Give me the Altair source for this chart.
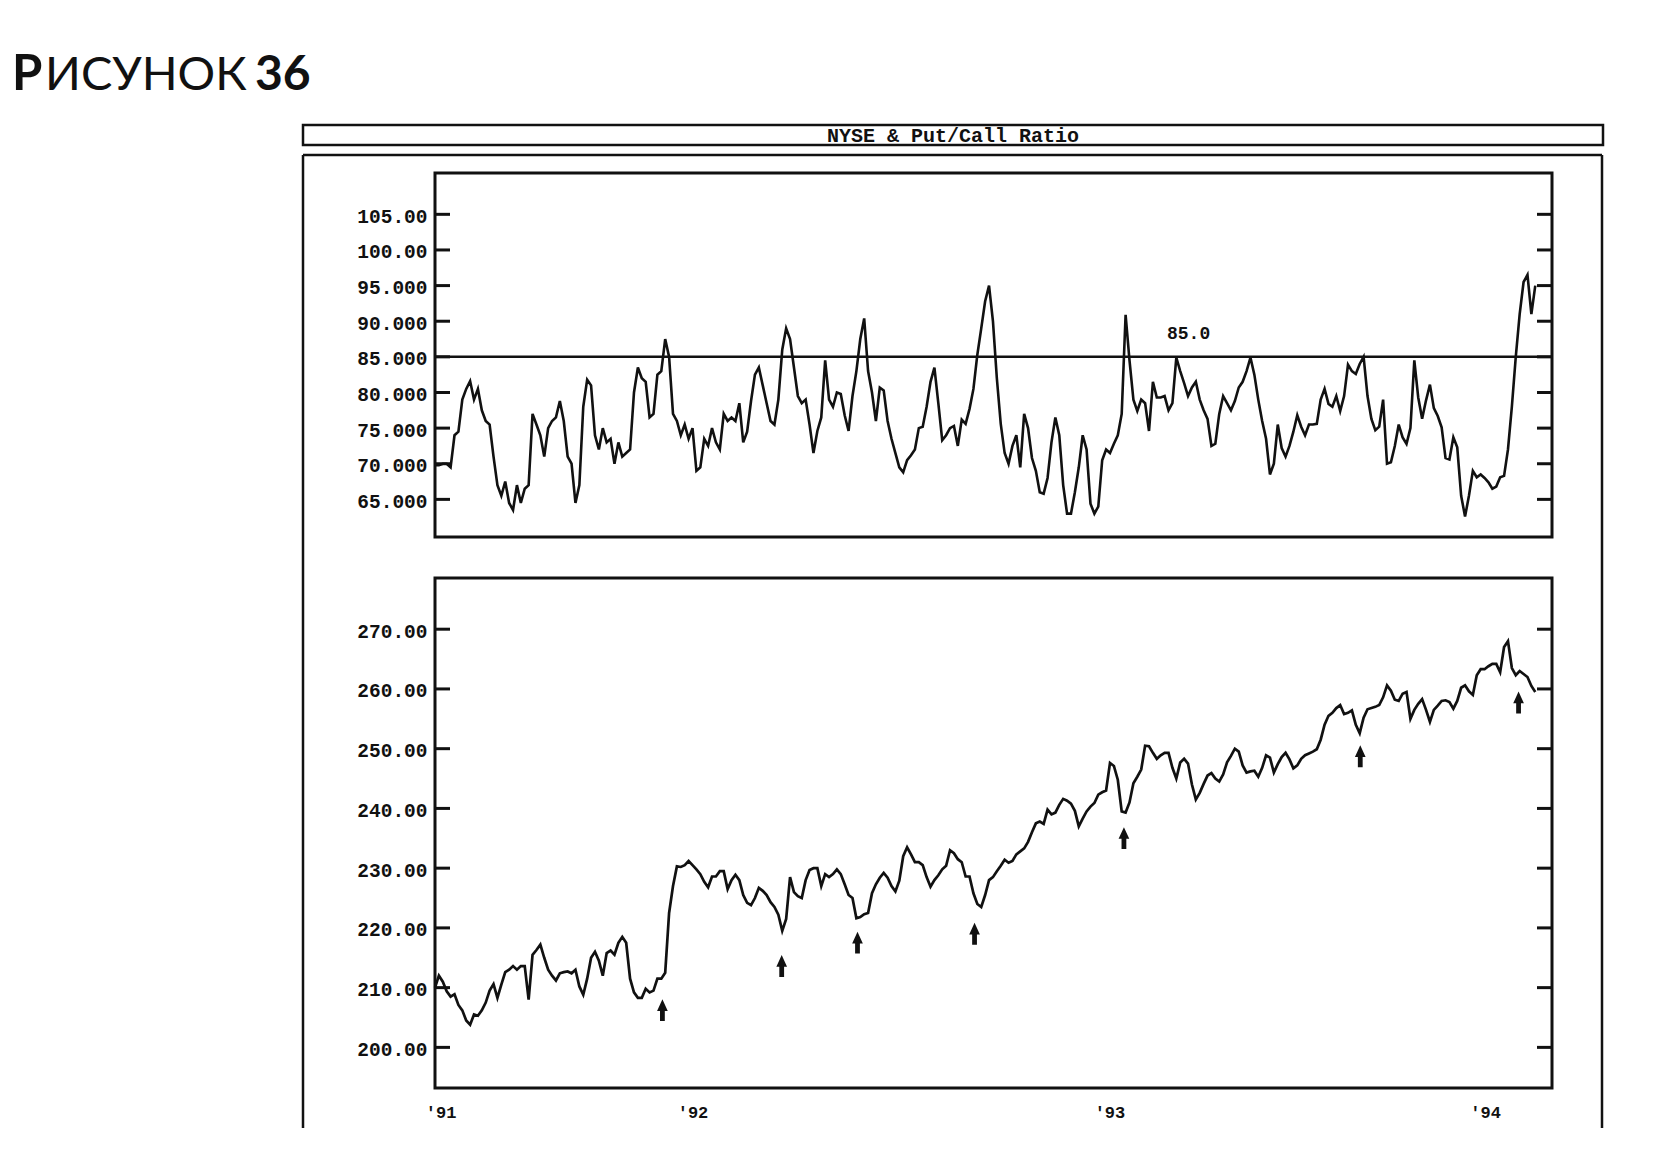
import altair as alt
import pandas as pd

# ---------------- data (half-week steps) ----------------
START = "1991-05-15"
STEP = "84h"

pcr_values = [
    69.8, 69.8, 70, 70, 69.5, 74, 74.5, 79, 80.5, 81.6,
    79, 80.5, 77.5, 76, 75.5, 71, 67, 65.5, 67.5, 64.5,
    63.5, 67, 64.5, 66.5, 67, 77, 75.5, 74, 71, 75,
    76, 76.5, 78.8, 76, 71, 70, 64.5, 67, 78, 81.8,
    81, 74, 72, 75, 73, 73.5, 70, 73, 71, 71.5,
    72, 80, 83.5, 82, 81.5, 76.5, 77, 82.5, 83, 87.5,
    85, 77, 76, 74, 75.5, 73.5, 75, 69, 69.5, 73.5,
    72.5, 75, 73, 72, 77, 76, 76.5, 76, 78.5, 73,
    74.5, 78.8, 82.5, 83.5, 81, 78.5, 76, 75.5, 79,
    86, 89, 87.5, 83.5, 79.5, 78.5, 79, 75.5, 71.5, 74.6, 76.5,
    84.5, 79, 78, 80, 79.8, 76.8, 74.6, 79.5, 83, 87.5,
    90.4, 83, 80, 76, 80.7, 80.3, 76, 73.5, 71.5, 69.5,
    68.8, 70.5, 71.2, 72, 75, 75.2, 78, 81.5, 83.5, 78.5,
    73.3, 74, 75, 75.3, 72.5, 76.2, 75.6, 77.7, 80.5, 85.3,
    89, 92.8, 95, 90, 82, 75.6, 71.5, 70, 72.5, 74,
    69.5, 77, 75, 70.8, 69, 66, 65.8, 68, 73, 76.5,
    74, 67, 63, 63, 66, 69.5, 74, 72, 64.4, 63,
    64, 70.5, 72, 71.5, 72.8, 74, 77, 90.9, 84.5, 79,
    77.4, 79, 78.5, 74.6, 81.5, 79.3, 79.3, 79.5, 77.5, 78.5,
    84.9, 83, 81.3, 79.5, 80.7, 81.5, 79, 77.5, 76.3, 72.5,
    72.8, 77, 79.5, 78.5, 77.5, 78.8, 80.7, 81.5, 83, 84.9,
    82.5, 79, 76, 73.5, 68.5, 70, 75.5, 72.2, 71, 72.5,
    74.5, 76.8, 75.2, 74, 75.5, 75.5, 75.6, 79, 80.5, 78.4,
    78, 79.5, 77.4, 79.5, 83.9, 83, 82.6, 84, 85, 79.5,
    76.3, 74.7, 75.2, 79, 70, 70.2, 72.5, 75.5, 73.7, 72.8,
    75, 84.5, 79.3, 76.3, 78.9, 81.1, 77.8, 76.7, 75.1, 70.8,
    70.6, 73.7, 72.3, 65.5, 62.6, 65.5, 69, 68.1, 68.5, 68,
    67.4, 66.5, 66.8, 68.1, 68.3, 72, 78, 85, 91, 95.5,
    96.5, 91, 95,
]

nyse_values = [
    210, 212, 211, 209.4, 208.5, 208.9, 207.1, 206.2, 204.5, 203.8,
    205.5, 205.3, 206.2, 207.5, 209.5, 210.6, 208.3, 210.5, 212.6, 213,
    213.6, 213, 213.6, 213.6, 208, 215.5, 216.3, 217.2, 215, 213,
    212, 211.2, 212.4, 212.6, 212.7, 212.4, 213, 210.2, 208.8, 211.5,
    215, 216, 214.5, 212, 215.8, 216.2, 215.5, 217.5, 218.5, 217.5,
    211.5, 209.2, 208.3, 208.3, 209.8, 209.2, 209.5, 211.5, 211.5, 212.5,
    222.5, 227, 230.3, 230.2, 230.5, 231.2, 230.5, 229.8, 229, 227.7,
    226.8, 228.6, 228.6, 229.5, 229.5, 226.5, 228, 228.9, 228, 225.5,
    224.2, 223.8, 225, 226.7, 226.2, 225.5, 224.3, 223.5, 222.2,
    219.5, 221.5, 228.5, 226, 225.3, 225, 228, 229.7, 230, 230, 227,
    229, 228.5, 229, 229.8, 229, 227.3, 225.5, 225, 221.6, 221.8,
    222.3, 222.5, 225.8, 227.3, 228.4, 229.2, 228.4, 227, 226.1, 227.9,
    232, 233.5, 232.3, 231, 231, 230.5, 228.5, 226.9, 228, 228.8,
    229.8, 230.4, 233, 232.5, 231.5, 231, 228.6, 228.6, 225.8, 224,
    223.5, 225.5, 228, 228.5, 229.5, 230.4, 231.4, 230.9, 231.2, 232.3,
    232.8, 233.3, 234.4, 236, 237.5, 237.8, 237.4, 239.8, 239, 239.3,
    240.6, 241.6, 241.3, 240.8, 239.6, 237, 238.3, 239.5, 240.3, 240.9,
    242.3, 242.7, 243, 247.6, 247.1, 244.8, 239.5, 239.3, 241, 244.2,
    245.3, 246.5, 250.5, 250.4, 249.3, 248.3, 248.9, 249.3, 249.3, 246.8,
    245, 247.7, 248.3, 247.5, 244, 241.5, 242.6, 244.1, 245.5, 245.9,
    245, 244.5, 245.7, 247.7, 248.8, 250, 249.5, 247.2, 246, 246.2,
    246.3, 245.3, 246.8, 248.9, 248.5, 246, 247.4, 248.6, 249.3, 248.2,
    246.7, 247.2, 248.3, 248.9, 249.2, 249.5, 249.9, 251.5, 254, 255.5,
    256, 256.8, 257.3, 255.8, 256, 256.4, 254, 252.6, 255.2, 256.6,
    256.8, 257, 257.3, 258.6, 260.6, 259.7, 258.2, 258, 259.2, 259.5,
    255, 256.5, 257.5, 258.3, 256.5, 254.5, 256.5, 257.2, 258, 258.1,
    257.8, 256.7, 258, 260.2, 260.6, 259.6, 259, 262.3, 263.3, 263.3,
    263.8, 264.2, 264.2, 262.8, 267, 268, 263.5, 262.3, 263, 262.5,
    262, 260.5, 259.5,
]

arrow_dates = ["1991-12-05", "1992-03-21", "1992-05-28", "1992-09-10",
               "1993-01-22", "1993-08-22", "1994-01-11"]
arrow_values = [206.1, 213.5, 217.4, 218.9, 234.9, 248.6, 257.6]

pcr_ticks = [65, 70, 75, 80, 85, 90, 95, 100, 105]
nyse_ticks = [200, 210, 220, 230, 240, 250, 260, 270]
year_tick_dates = [(1991, 5, 20), (1992, 1, 1), (1993, 1, 9), (1993, 12, 12)]
year_tick_labels = ["'91", "'92", "'93", "'94"]
level_value = 85.0
level_label = "85.0"
level_label_date = "1993-03-21"
level_label_value = 88.2

chart_title = ["Р", "ИСУНОК", "36"]
panel_title = "NYSE & Put/Call Ratio"

# ---------------- tables ----------------
dates = pd.date_range(START, periods=len(pcr_values), freq=STEP)
pcr_df = pd.DataFrame({"date": dates, "pcr": pcr_values})
nyse_df = pd.DataFrame({"date": dates[:len(nyse_values)], "nyse": nyse_values})
arrow_df = pd.DataFrame({"date": pd.to_datetime(arrow_dates), "nyse": arrow_values})
pcr_tick_df = pd.DataFrame({"pcr": pcr_ticks})
nyse_tick_df = pd.DataFrame({"nyse": nyse_ticks})
level_df = pd.DataFrame({"pcr": [level_value]})
level_label_df = pd.DataFrame({"date": pd.to_datetime([level_label_date]),
                               "pcr": [level_label_value], "label": [level_label]})
one = pd.DataFrame({"k": [0]})

W = 1117
H1 = 364
H2 = 510
MONO = "Liberation Mono"
INK = "#111111"

xscale = alt.Scale(domain=[alt.DateTime(year=1991, month=5, date=15),
                           alt.DateTime(year=1994, month=2, date=10)])

# ---------------- upper panel ----------------
y_up_scale = alt.Scale(domain=[59.72, 110.8], nice=False, zero=False)
y_up_axis = alt.Axis(values=pcr_ticks, ticks=False, domain=False, grid=False,
                     labelExpr="datum.value >= 100 ? format(datum.value, '.2f') : format(datum.value, '.3f')",
                     labelFont=MONO, labelFontWeight="bold", labelFontSize=19.5,
                     labelColor=INK, labelPadding=8, labelOffset=2, title=None)

up_line = alt.Chart(pcr_df).mark_line(color=INK, strokeWidth=2.6).encode(
    x=alt.X("date:T", scale=xscale, axis=None),
    y=alt.Y("pcr:Q", scale=y_up_scale, axis=y_up_axis),
)
up_level = alt.Chart(level_df).mark_rule(color=INK, strokeWidth=2.5).encode(y="pcr:Q")
up_level_text = alt.Chart(level_label_df).mark_text(
    font=MONO, fontWeight="bold", fontSize=18, color=INK).encode(
    x="date:T", y="pcr:Q", text="label:N")
up_tick_l = alt.Chart(pcr_tick_df).mark_rule(color=INK, strokeWidth=3).encode(
    y="pcr:Q", x=alt.value(0), x2=alt.value(15))
up_tick_r = alt.Chart(pcr_tick_df).mark_rule(color=INK, strokeWidth=3).encode(
    y="pcr:Q", x=alt.value(W - 15), x2=alt.value(W))

# frame / header decorations
hdr_box = alt.Chart(one).mark_rect(fillOpacity=0, stroke=INK, strokeWidth=2.5).encode(
    x=alt.value(-132), x2=alt.value(1168), y=alt.value(-48), y2=alt.value(-28))
hdr_text = alt.Chart(one).mark_text(text=panel_title, font=MONO, fontWeight="bold",
                                    fontSize=20, color=INK, align="center",
                                    baseline="alphabetic").encode(
    x=alt.value(518), y=alt.value(-31))
frame_top = alt.Chart(one).mark_rule(color=INK, strokeWidth=2.5).encode(
    x=alt.value(-132), x2=alt.value(1167), y=alt.value(-18))
frame_left = alt.Chart(one).mark_rule(color=INK, strokeWidth=2.5).encode(
    x=alt.value(-132), y=alt.value(-18), y2=alt.value(955))
frame_right = alt.Chart(one).mark_rule(color=INK, strokeWidth=2.5).encode(
    x=alt.value(1167), y=alt.value(-18), y2=alt.value(955))

t1 = alt.Chart(one).mark_text(text=chart_title[0], font="Lato", fontWeight="bold",
                              fontSize=49, color=INK, align="left",
                              baseline="alphabetic").encode(x=alt.value(-423), y=alt.value(-83))
t2 = alt.Chart(one).mark_text(text=chart_title[1], font="Lato", fontWeight=400,
                              fontSize=47, color=INK, align="left",
                              baseline="alphabetic").encode(x=alt.value(-390), y=alt.value(-83))
t3 = alt.Chart(one).mark_text(text=chart_title[2], font="Lato", fontWeight="bold",
                              fontSize=48, color=INK, align="left",
                              baseline="alphabetic").encode(x=alt.value(-180), y=alt.value(-83))

upper = alt.layer(up_line, up_level, up_level_text, up_tick_l, up_tick_r,
                  hdr_box, hdr_text, frame_top, frame_left, frame_right,
                  t1, t2, t3).properties(width=W, height=H1)

# ---------------- lower panel ----------------
y_lo_scale = alt.Scale(domain=[193.2, 278.57], nice=False, zero=False)
y_lo_axis = alt.Axis(values=nyse_ticks, ticks=False, domain=False, grid=False,
                     format=".2f", labelFont=MONO, labelFontWeight="bold",
                     labelFontSize=19.5, labelColor=INK, labelPadding=8,
                     labelOffset=2, title=None)

label_lookup = " : ".join(
    f"year(datum.value) == {y} && month(datum.value) == {m - 1} && date(datum.value) == {d} ? \"{lab}\""
    for (y, m, d), lab in zip(year_tick_dates, year_tick_labels)) + " : ''"

x_lo_axis = alt.Axis(values=[alt.DateTime(year=y, month=m, date=d) for y, m, d in year_tick_dates],
                     labelExpr=label_lookup,
                     ticks=False, domain=False, grid=False, labelFlush=False,
                     labelOverlap=False, labelFont=MONO, labelFontWeight="bold",
                     labelFontSize=17, labelColor=INK, labelPadding=16, title=None)

lo_line = alt.Chart(nyse_df).mark_line(color=INK, strokeWidth=2.7).encode(
    x=alt.X("date:T", scale=xscale, axis=x_lo_axis),
    y=alt.Y("nyse:Q", scale=y_lo_scale, axis=y_lo_axis),
)
lo_arrows = alt.Chart(arrow_df).mark_point(shape="arrow", filled=True, size=330,
                                           color=INK, stroke=INK, strokeWidth=2.2,
                                           opacity=1).encode(
    x="date:T", y="nyse:Q")
lo_tick_l = alt.Chart(nyse_tick_df).mark_rule(color=INK, strokeWidth=3).encode(
    y="nyse:Q", x=alt.value(0), x2=alt.value(15))
lo_tick_r = alt.Chart(nyse_tick_df).mark_rule(color=INK, strokeWidth=3).encode(
    y="nyse:Q", x=alt.value(W - 15), x2=alt.value(W))

lower = alt.layer(lo_line, lo_arrows, lo_tick_l, lo_tick_r).properties(width=W, height=H2)

chart = alt.vconcat(upper, lower, spacing=41, bounds="flush").properties(
    padding={"left": 2, "top": 41, "right": 5, "bottom": 5},
    background="white",
).configure_view(stroke=INK, strokeWidth=3)

chart.save("out.html", embed_options={"renderer": "svg", "actions": False})
